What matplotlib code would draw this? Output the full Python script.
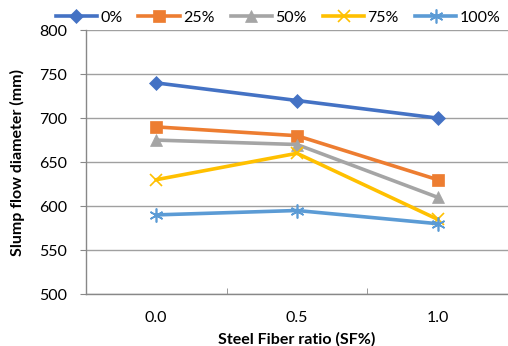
import matplotlib
matplotlib.use("Agg")
import matplotlib.pyplot as plt

categories = ["0.0", "0.5", "1.0"]
series_names = ["0%", "25%", "50%", "75%", "100%"]
v0 = [740, 720, 700]
v25 = [690, 680, 630]
v50 = [675, 670, 610]
v75 = [630, 660, 585]
v100 = [590, 595, 580]
values = [v0, v25, v50, v75, v100]

colors = ["#4472C4", "#ED7D31", "#A5A5A5", "#FFC000", "#5B9BD5"]
markers = ["D", "s", "^", "x", (6, 2, 0)]
msizes = [7, 9, 9, 9, 10]

plt.rcParams["font.family"] = ["Lato", "DejaVu Sans"]

fig = plt.figure(figsize=(5.08, 3.46), dpi=100)
ax = fig.add_axes([0.169, 0.150, 0.831, 0.763])

x = list(range(len(categories)))
for vals, name, c, m, ms in zip(values, series_names, colors, markers, msizes):
    ax.plot(x, vals, color=c, lw=2.6, marker=m, markersize=ms, label=name,
            markeredgewidth=1.2 if m in ("x", (6, 2, 0)) else 0.5,
            markeredgecolor=c, markerfacecolor=c)

ax.set_xlim(-0.5, 2.5)
ax.set_ylim(500, 800)
ax.set_yticks(range(500, 801, 50))
ax.set_xticks(x)
ax.set_xticklabels(categories)
ax.set_xticks([0.5, 1.5], minor=True)
ax.tick_params(axis="x", which="major", length=0, pad=12, labelsize=11.5)
ax.tick_params(axis="x", which="minor", length=4.5, direction="in", color="#888888")
ax.tick_params(axis="y", length=4.5, color="#888888", labelsize=11.5, pad=9)

ax.grid(axis="y", color="#A0A0A0", lw=1)
ax.set_axisbelow(True)
for s in ("top", "right"):
    ax.spines[s].set_visible(False)
for s in ("left", "bottom"):
    ax.spines[s].set_color("#888888")
    ax.spines[s].set_linewidth(1)

ax.set_xlabel("Steel Fiber ratio (SF%)", fontsize=11.5, fontweight="bold", va="center")
ax.xaxis.set_label_coords(0.5, -0.170)
ax.set_ylabel("Slump flow diameter (mm)", fontsize=11.5, fontweight="bold", va="center")
ax.yaxis.set_label_coords(-0.161, 0.5)

fig.legend(loc="center", bbox_to_anchor=(278 / 508, 1 - 18 / 346), ncol=5, frameon=False,
           fontsize=11.5, handlelength=2.6, columnspacing=1.0, handletextpad=0.2,
           borderpad=0.2)

fig.savefig("out.png", dpi=100)
